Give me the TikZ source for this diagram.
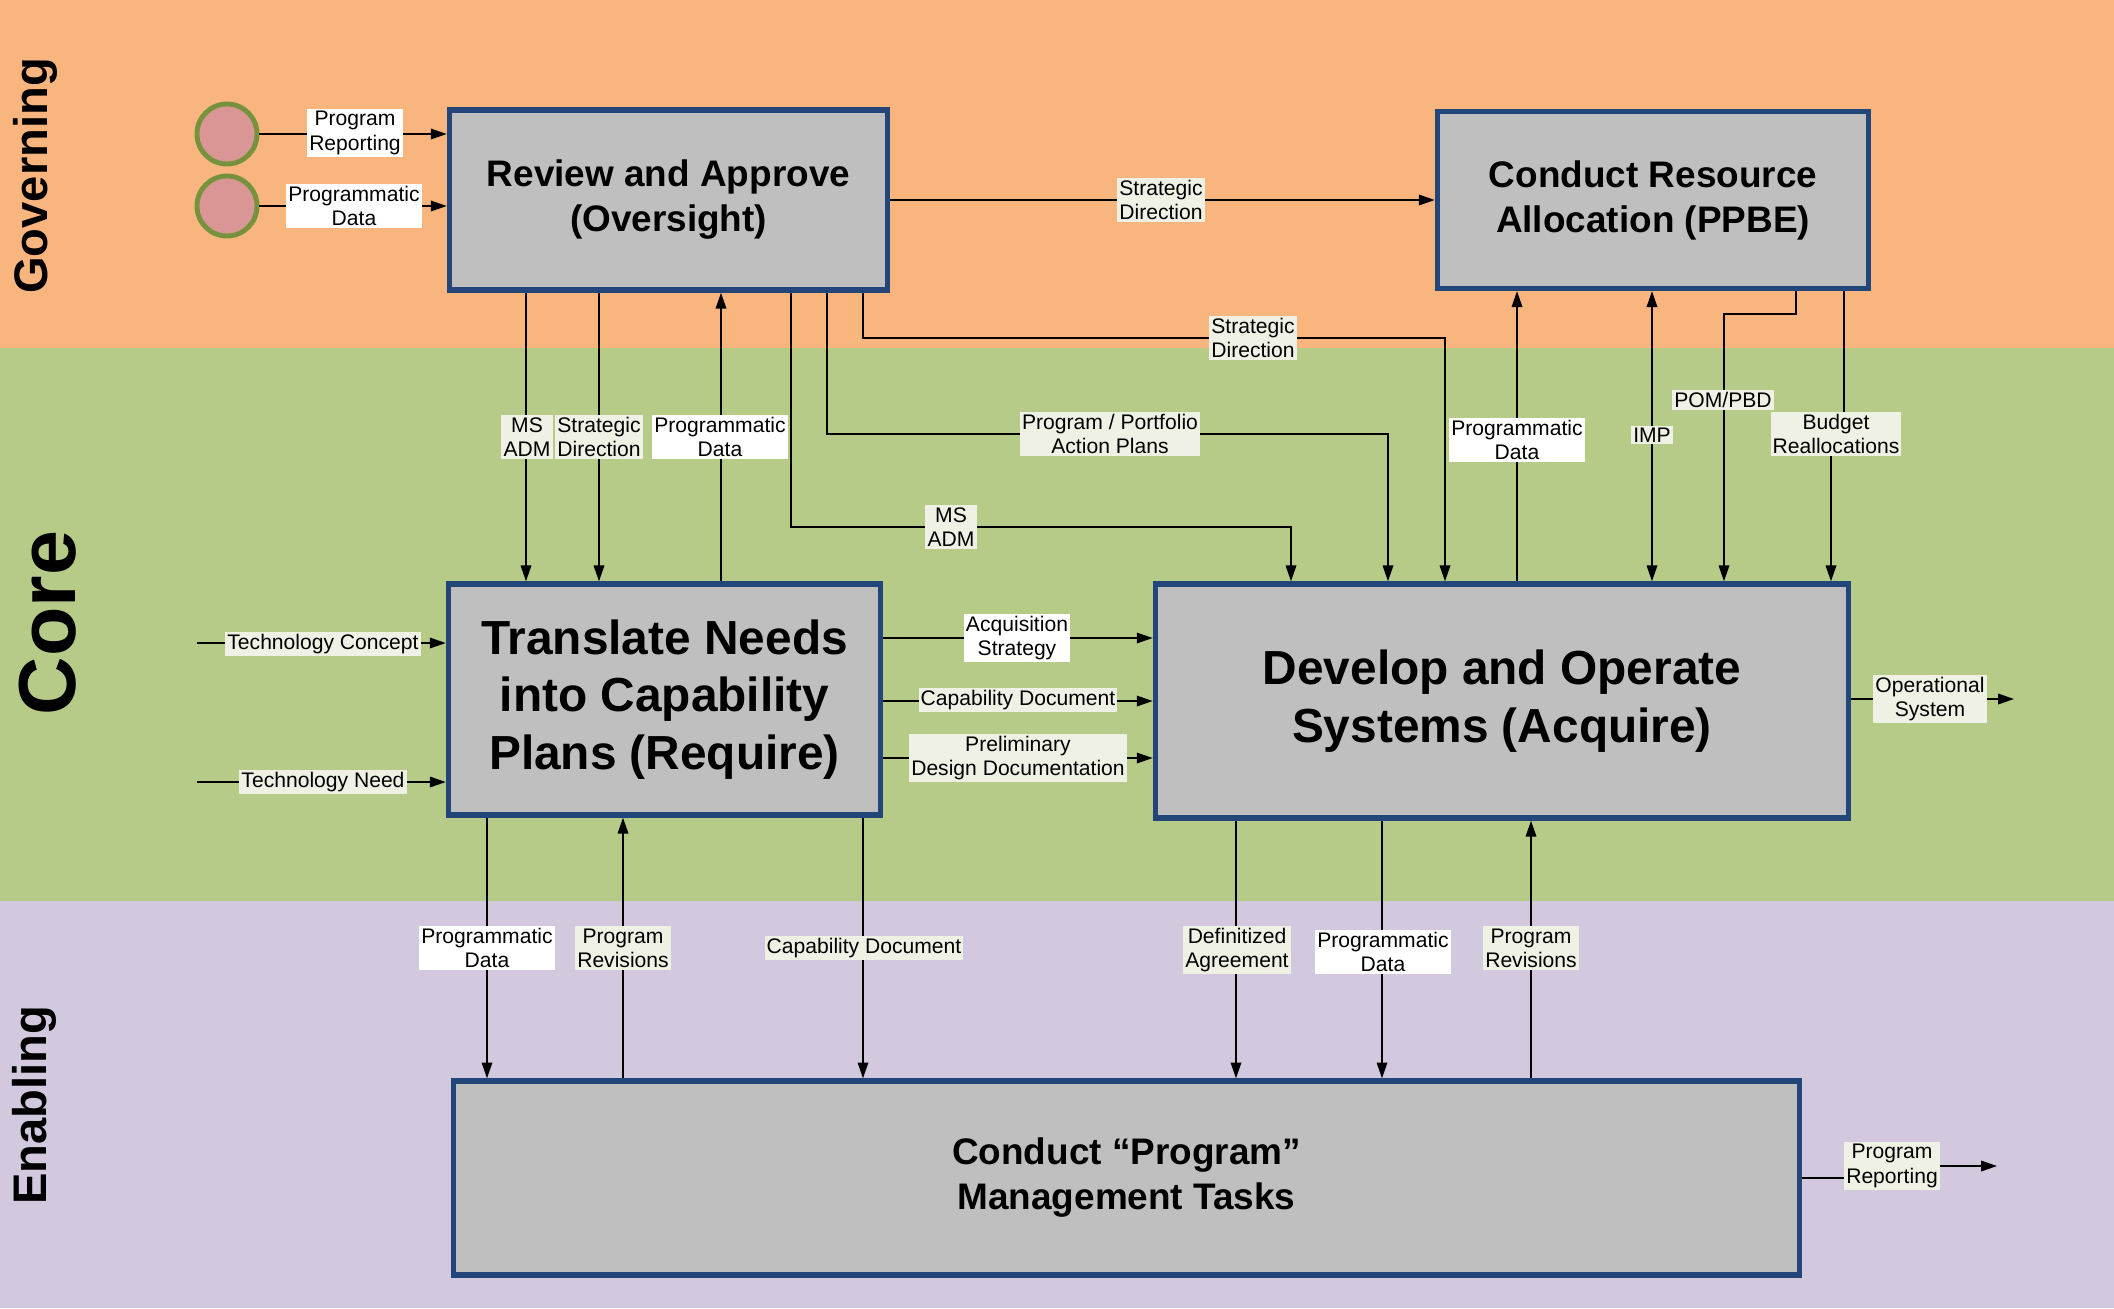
\documentclass[tikz,border=0pt]{standalone}
\usepackage{fontspec}
\setmainfont{Liberation Sans}
\usetikzlibrary{arrows.meta}
\definecolor{govorange}{RGB}{249,181,126}
\definecolor{coregreen}{RGB}{183,203,137}
\definecolor{enabpurple}{RGB}{210,201,223}
\definecolor{boxgray}{RGB}{191,191,191}
\definecolor{boxblue}{RGB}{34,70,122}
\definecolor{srcpink}{RGB}{217,150,148}
\definecolor{srcgreen}{RGB}{118,146,60}
\definecolor{lblcream}{RGB}{239,241,229}
\tikzset{
  proc/.style={draw=boxblue,line width=1.5pt,fill=boxgray,align=center,inner sep=0pt},
  smalltitle/.style={font=\bfseries\fontsize{10.5}{12.8}\selectfont},
  bigtitle/.style={font=\bfseries\fontsize{13.6}{16.3}\selectfont},
  lane/.style={rotate=90,font=\bfseries\fontsize{13.4}{16}\selectfont},
  src/.style={circle,draw=srcgreen,fill=srcpink,line width=1.4pt,minimum size=0.6cm,inner sep=0pt},
  flow/.style={draw=black,line width=0.45pt,->},
  lbl/.style={fill=lblcream,inner sep=0.6pt,align=center,font=\fontsize{6}{6.9}\selectfont},
  lblw/.style={lbl,fill=white}
}
\begin{document}
\begin{tikzpicture}[x=0.01cm,y=-0.01cm,>={Triangle[length=4.5pt,width=3pt]}]
\useasboundingbox (0,0) rectangle (2114,1308);
\fill[govorange] (0,0) rectangle (2114,348);
\fill[coregreen] (0,348) rectangle (2114,901);
\fill[enabpurple] (0,901) rectangle (2114,1308);
\node[lane] (lgov) at (35,176) {Governing};
\node[lane,font=\bfseries\fontsize{23}{27}\selectfont] (lcore) at (48,623) {Core};
\node[lane] (lenab) at (34,1105) {Enabling};

% process boxes
\node[proc,smalltitle,minimum width=4.38cm,minimum height=1.8cm] (rev) at (668.5,200) {Review and Approve\\(Oversight)};
\node[proc,smalltitle,minimum width=4.31cm,minimum height=1.77cm] (ppbe) at (1653,200) {Conduct Resource\\Allocation (PPBE)};
\node[proc,bigtitle,minimum width=4.32cm,minimum height=2.31cm] (req) at (664.5,699.5) {Translate Needs\\into Capability\\Plans (Require)};
\node[proc,bigtitle,minimum width=6.93cm,minimum height=2.34cm] (acq) at (1502,701) {Develop and Operate\\Systems (Acquire)};
\node[proc,smalltitle,minimum width=13.45cm,minimum height=1.94cm] (pmt) at (1126.5,1178) {Conduct “Program”\\Management Tasks};

\node[src] (src1) at (227,134) {};
\node[src] (src2) at (227,206) {};
\coordinate (tcin) at (197,643);
\coordinate (tnin) at (197,782);
\coordinate (opout) at (2014,699);
\coordinate (prout) at (1997,1166);

% connectors
\draw[flow] (src1) -- (src1 -| rev.west);
\draw[flow] (src2) -- (src2 -| rev.west);
\draw[flow] (rev.east) -- (ppbe.west);
\draw[flow] (rev.south -| 863,0) -- (863,338) -- (1445,338) -- (acq.north -| 1445,0);
\draw[flow] (rev.south -| 827,0) -- (827,434) -- (1388,434) -- (acq.north -| 1388,0);
\draw[flow] (rev.south -| 791,0) -- (791,527) -- (1291,527) -- (acq.north -| 1291,0);
\draw[flow] (rev.south -| 526,0) -- (req.north -| 526,0);
\draw[flow] (rev.south -| 599,0) -- (req.north -| 599,0);
\draw[flow] (req.north -| 721,0) -- (rev.south -| 721,0);
\draw[flow] (acq.north -| 1517,0) -- (ppbe.south -| 1517,0);
\draw[flow,<->] (ppbe.south -| 1652,0) -- (acq.north -| 1652,0);
\draw[flow] (ppbe.south -| 1796,0) -- (1796,314) -- (1724,314) -- (acq.north -| 1724,0);
\draw[flow] (ppbe.south -| 1844,0) -- (1844,434) -- (1831,434) -- (acq.north -| 1831,0);
\draw[flow] (tcin) -- (tcin -| req.west);
\draw[flow] (tnin) -- (tnin -| req.west);
\draw[flow] (req.east |- 0,638) -- (acq.west |- 0,638);
\draw[flow] (req.east |- 0,701) -- (acq.west |- 0,701);
\draw[flow] (req.east |- 0,758) -- (acq.west |- 0,758);
\draw[flow] (acq.east |- opout) -- (opout);
\draw[flow] (req.south -| 487,0) -- (pmt.north -| 487,0);
\draw[flow] (pmt.north -| 623,0) -- (req.south -| 623,0);
\draw[flow] (req.south -| 863,0) -- (pmt.north -| 863,0);
\draw[flow] (acq.south -| 1236,0) -- (pmt.north -| 1236,0);
\draw[flow] (acq.south -| 1382,0) -- (pmt.north -| 1382,0);
\draw[flow] (pmt.north -| 1531,0) -- (acq.south -| 1531,0);
\draw[flow] (pmt.east |- 0,1178) -- (1892,1178) -- (1892,1166) -- (prout);

% labels
\node[lblw] (lpr1) at (355,133) {Program\\Reporting};
\node[lblw] (lpd1) at (354,206) {Programmatic\\Data};
\node[lbl] (lsd1) at (1161,200) {Strategic\\Direction};
\node[lbl] (lsd2) at (1253,338) {Strategic\\Direction};
\node[lbl] (lpap) at (1110,434) {Program / Portfolio\\Action Plans};
\node[lbl] (lms2) at (951,527) {MS\\ADM};
\node[lbl] (lms1) at (527,437) {MS\\ADM};
\node[lbl] (lsd3) at (599,437) {Strategic\\Direction};
\node[lblw] (lpd2) at (720,437) {Programmatic\\Data};
\node[lblw] (lpd3) at (1517,440) {Programmatic\\Data};
\node[lbl] (limp) at (1652,435) {IMP};
\node[lbl] (lpom) at (1723,400) {POM/PBD};
\node[lbl] (lbud) at (1836,434) {Budget\\Reallocations};
\node[lbl] (ltc) at (323,644) {Technology Concept};
\node[lbl] (ltn) at (323,782) {Technology Need};
\node[lblw] (las) at (1017,638) {Acquisition\\Strategy};
\node[lbl] (lcd1) at (1018,700) {Capability Document};
\node[lbl] (lpdd) at (1018,758) {Preliminary\\Design Documentation};
\node[lbl] (los) at (1930,699) {Operational\\System};
\node[lblw] (lpd4) at (487,948) {Programmatic\\Data};
\node[lbl] (lrv1) at (623,948) {Program\\Revisions};
\node[lbl] (lcd2) at (864,948) {Capability Document};
\node[lbl] (ldef) at (1237,950) {Definitized\\Agreement};
\node[lblw] (lpd5) at (1383,952) {Programmatic\\Data};
\node[lbl] (lrv2) at (1531,948) {Program\\Revisions};
\node[lbl] (lpr2) at (1892,1166) {Program\\Reporting};
\end{tikzpicture}
\end{document}
